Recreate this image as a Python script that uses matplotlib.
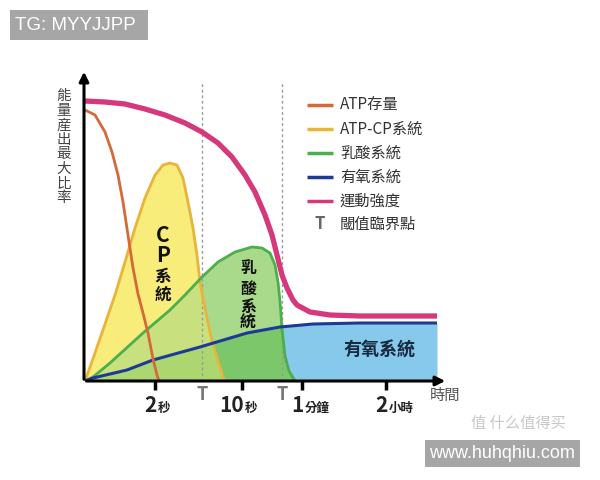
import matplotlib
matplotlib.use("Agg")
import matplotlib.pyplot as plt
import numpy as np
from matplotlib.patches import Polygon, Rectangle

plt.rcParams['font.family'] = ['Noto Sans CJK TC', 'DejaVu Sans']

# curves (x = time position, y = share of max output)
intensity_x = [0, 20, 40, 60, 80, 100, 117, 133, 147, 160, 170, 180, 187, 192, 197, 202, 208, 212, 225, 245, 275, 352]
intensity_y = [280, 279, 277, 272, 266, 258, 249, 238, 224, 206, 189, 166, 146, 126, 106, 93, 81, 76, 69, 66, 65, 65]

atp_x = [0, 10, 20, 27, 33, 38, 43, 48, 53, 58, 63, 68, 72, 74]
atp_y = [271, 266, 249, 229, 206, 179, 146, 113, 87, 68, 48, 22, 6, 0]

cp_x = [0, 10, 30, 40, 50, 60, 70, 78, 85, 92, 98, 103, 108, 112, 115, 117, 123, 128, 135, 138, 140]
cp_y = [0, 28, 86, 119, 153, 183, 206, 216, 218, 216, 203, 179, 153, 126, 99, 88, 58, 36, 14, 4, 0]

lac_x = [0, 8, 25, 58, 85, 100, 117, 133, 150, 167, 177, 185, 190, 193, 195, 197, 200, 204, 210]
lac_y = [0, 4, 18, 48, 71, 86, 104, 119, 129, 134, 133, 128, 116, 99, 80, 52, 25, 10, 0]

aer_x = [0, 8, 42, 68, 115, 162, 195, 228, 275, 352]
aer_y = [0, 3, 11, 21, 34, 48, 54, 57, 58, 58]

threshold_x = [117, 197]
tick_x = [72, 159, 219, 303]
tick_num = ['2', '10', '1', '2']
tick_unit = ['秒', '秒', '分鐘', '小時']

legend_names = ['ATP存量', 'ATP-CP系統', '乳酸系統', '有氧系統', '運動強度']
legend_colors = ['#d4693a', '#eab33c', '#4cae4c', '#1c3a96', '#d6387c']

fig = plt.figure(figsize=(6, 4.8), dpi=100)
ax = fig.add_axes([0, 0, 1, 1])
ax.set_xlim(-85, 515)
ax.set_ylim(-99, 381)
ax.axis('off')

# fills
ax.fill_between(aer_x[6:], 0, aer_y[6:], color='#86c9ea', lw=0, zorder=1)
ax.add_patch(Polygon(np.column_stack([cp_x, cp_y]), closed=True, color='#f8ec7a', lw=0, zorder=2))
green = Polygon(np.column_stack([lac_x, lac_y]), closed=True, color='#a9d98a', lw=0, zorder=3)
ax.add_patch(green)
both = Polygon(np.column_stack([cp_x, cp_y]), closed=True, color='#c8e17e', lw=0, zorder=4)
ax.add_patch(both)
both.set_clip_path(green)
under = ax.fill_between(aer_x, 0, aer_y, color='#7cc76a', lw=0, zorder=5)
under.set_clip_path(green)
yel_clip = Polygon(np.column_stack([cp_x, cp_y]), closed=True, fill=False, lw=0)
ax.add_patch(yel_clip)
under2 = ax.fill_between(aer_x, 0, aer_y, color='#acd770', lw=0, zorder=6)
under2.set_clip_path(yel_clip)

# threshold lines
for tx in threshold_x:
    ax.plot([tx, tx], [0, 299], color='#9a9a9a', lw=1, ls=(0, (2, 2)), zorder=7)

# curves
kw = dict(solid_joinstyle='round', solid_capstyle='butt')
ax.plot(cp_x, cp_y, color=legend_colors[1], lw=2, zorder=8, **kw)
ax.plot(lac_x, lac_y, color=legend_colors[2], lw=2, zorder=8, **kw)
ax.plot(aer_x, aer_y, color=legend_colors[3], lw=2.2, zorder=9, **kw)
ax.plot(atp_x, atp_y, color=legend_colors[0], lw=2, zorder=9, **kw)
ax.plot(intensity_x, intensity_y, color=legend_colors[4], lw=3.8, zorder=9, **kw)

# axes arrows
ax.annotate('', xy=(363, 0), xytext=(-1, 0),
            arrowprops=dict(arrowstyle='-|>', lw=2.2, color='black', mutation_scale=14), zorder=10)
ax.annotate('', xy=(-1, 312), xytext=(-1, -1),
            arrowprops=dict(arrowstyle='-|>', lw=2.2, color='black', mutation_scale=14), zorder=10)

# ticks and labels
for tx, num, unit in zip(tick_x, tick_num, tick_unit):
    ax.plot([tx - 2, tx - 2], [0, -9], color='black', lw=2.5, zorder=10, solid_capstyle='butt')
    ax.text(tx, -31, num, fontsize=15, fontweight='bold', ha='right', va='baseline', color='#222')
    ax.text(tx + 1, -31, unit, fontsize=9, fontweight='bold', ha='left', va='baseline', color='#222')
for tx in threshold_x:
    ax.text(tx, -14, 'T', fontsize=13, fontweight='bold', ha='center', va='center', color='#777')
ax.text(360, -14, '時間', fontsize=11, ha='center', va='center', color='#555')

# y label, stacked
for i, ch in enumerate('能量産出最大比率'):
    ax.text(-21, 285 - i * 14.6, ch, fontsize=10.5, ha='center', va='center', color='#444')

# in-chart labels
for ch, yy, fs in zip(['C', 'P', '系', '統'], [146, 126, 104, 86], [15, 15, 12, 12]):
    ax.text(78, yy, ch, fontsize=fs, fontweight='bold', ha='center', va='center', color='#111')
for ch, yy in zip('乳酸系統', [113, 92, 74, 58]):
    ax.text(163, yy, ch, fontsize=11.5, fontweight='bold', ha='center', va='center', color='#111')
ax.text(294, 31, '有氧系統', fontsize=13, fontweight='bold', ha='center', va='center', color='#1a2a40')

# legend
leg_y = [276, 252, 228, 204, 180]
for name, c, ly in zip(legend_names, legend_colors, leg_y):
    ax.plot([222, 248], [ly, ly], color=c, lw=2.5, solid_capstyle='butt')
    ax.text(255, ly, name, fontsize=11, ha='left', va='center', color='#333')
ax.text(235, 157, 'T', fontsize=12, fontweight='bold', ha='center', va='center', color='#666')
ax.text(255, 157, '閾值臨界點', fontsize=11, ha='left', va='center', color='#333')

# watermarks
ax.add_patch(Rectangle((-75, 341), 138, 30, color='#a6a6a6', lw=0, zorder=11))
ax.text(-70, 356, 'TG: MYYJJPP', fontsize=13.5, family='Liberation Sans', color='white',
        ha='left', va='center', zorder=12)
ax.add_patch(Rectangle((340, -86), 155, 27, color='#a6a6a6', lw=0, zorder=11))
ax.text(417, -72, 'www.huhqhiu.com', fontsize=13, family='Liberation Sans', color='white',
        ha='center', va='center', zorder=12)
ax.text(433, -42, '值 什么值得买', fontsize=11, color='#c8c8c8', ha='center', va='center')

fig.savefig('out.png', dpi=100)
